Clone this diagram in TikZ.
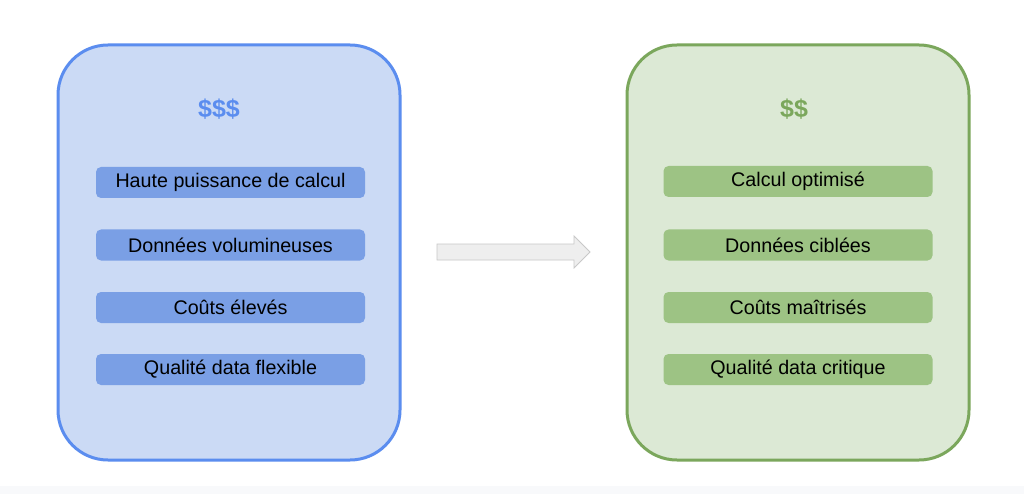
\documentclass[tikz,border=0pt]{standalone}
\usepackage{fontspec}
\setmainfont{Liberation Sans}
\definecolor{bstroke}{HTML}{5B8DEF}
\definecolor{bfill}{HTML}{CBDAF5}
\definecolor{bitem}{HTML}{7A9FE5}
\definecolor{gstroke}{HTML}{7BA75C}
\definecolor{gfill}{HTML}{DCE9D5}
\definecolor{gitem}{HTML}{9DC384}
\definecolor{arrfill}{HTML}{EEEEEE}
\definecolor{arrstroke}{HTML}{C8C8C8}
\definecolor{strip}{HTML}{F8F9FB}
\begin{document}
\begin{tikzpicture}[x=1pt,y=-1pt,
  panel/.style={rounded corners=50pt, line width=3pt},
  item/.style={rounded corners=5pt, minimum width=269pt, minimum height=31pt, inner sep=0pt, font=\fontsize{19.7pt}{22pt}\selectfont, text=black},
  price/.style={font=\fontsize{25pt}{28pt}\selectfont\bfseries}]
\useasboundingbox (0,0) rectangle (1024,494);
\fill[white] (0,0) rectangle (1024,494);
\fill[strip] (0,486) rectangle (1024,494);
% left panel
\draw[panel, draw=bstroke, fill=bfill] (58,45) rectangle (400,460);
\node[price, text=bstroke] (lp) at (219,109) {\$\$\$};
\node[item, fill=bitem] (l1) at (230.5,182.5) {Haute puissance de calcul};
\node[item, fill=bitem] (l2) at (230.5,245) {Données volumineuses};
\node[item, fill=bitem] (l3) at (230.5,307.5) {Coûts élevés};
\node[item, fill=bitem] (l4) at (230.5,369.5) {Qualité data flexible};
% right panel
\draw[panel, draw=gstroke, fill=gfill] (627,45) rectangle (969,460);
\node[price, text=gstroke] (rp) at (794,109) {\$\$};
\node[item, fill=gitem] (r1) at (798,181.5) {Calcul optimisé};
\node[item, fill=gitem] (r2) at (798,245) {Données ciblées};
\node[item, fill=gitem] (r3) at (798,307.5) {Coûts maîtrisés};
\node[item, fill=gitem] (r4) at (798,369.5) {Qualité data critique};
% arrow
\draw[fill=arrfill, draw=arrstroke, line width=0.8pt]
  (437,244) -- (574,244) -- (574,236) -- (590,252) -- (574,268) -- (574,260) -- (437,260) -- cycle;
\end{tikzpicture}
\end{document}
